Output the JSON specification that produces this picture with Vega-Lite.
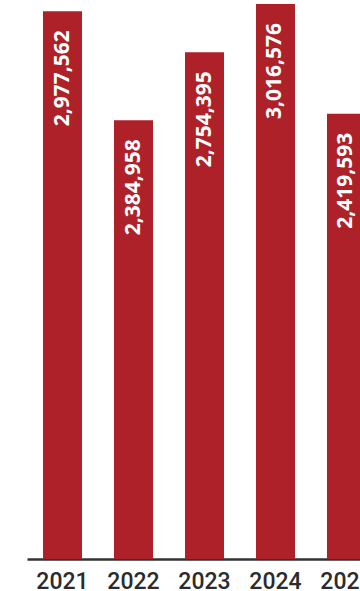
{
  "$schema": "https://vega.github.io/schema/vega-lite/v6.json",
  "autosize": {"type": "none"},
  "padding": {"left": 27, "top": 0, "right": 0, "bottom": 32},
  "width": 355,
  "height": 559,
  "background": "white",
  "config": {"view": {"stroke": null}, "font": "Open Sans"},
  "data": {"values": [
    {"year": "2021", "value": 2977562},
    {"year": "2022", "value": 2384958},
    {"year": "2023", "value": 2754395},
    {"year": "2024", "value": 3016576},
    {"year": "2025", "value": 2419593}
  ]},
  "encoding": {
    "x": {"field": "year", "type": "nominal", "sort": null,
      "scale": {"paddingInner": 0.4507, "paddingOuter": 0.2254},
      "axis": {"title": null, "labelAngle": 0, "labelFontSize": 23, "labelFontWeight": 500, "labelColor": "#2b2b2b", "labelFont": "Roboto", "labelPadding": 11, "ticks": false, "domainColor": "#333333", "domainWidth": 2.5, "labelOverlap": false}},
    "y": {"field": "value", "type": "quantitative", "scale": {"domain": [0, 3038300], "nice": false}, "axis": null}
  },
  "layer": [
    {"mark": {"type": "bar", "color": "#AE2129"}},
    {"mark": {"type": "text", "angle": 270, "align": "right", "baseline": "middle", "dx": -19, "color": "white", "fontWeight": "bold", "fontSize": 21, "font": "Open Sans"},
      "encoding": {"text": {"field": "value", "type": "quantitative", "format": ","}}}
  ]
}
